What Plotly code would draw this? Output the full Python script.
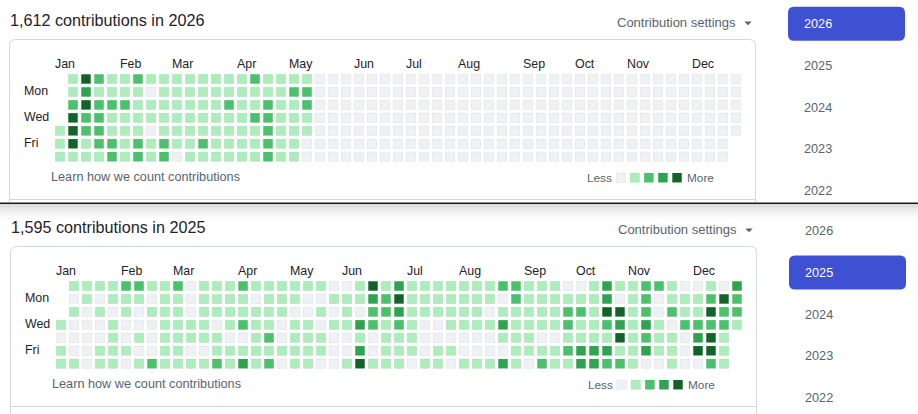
import datetime as dt
import plotly.graph_objects as go

W, H = 918, 414

# ---------------- data ----------------
LEVEL_COLORS = ["#eff2f5", "#aceebb", "#4ac26b", "#2da44e", "#116329"]
MONTHS = ["Jan", "Feb", "Mar", "Apr", "May", "Jun", "Jul", "Aug", "Sep", "Oct", "Nov", "Dec"]
DAY_LABELS = {1: "Mon", 3: "Wed", 5: "Fri"}
YEAR_LIST = ["2026", "2025", "2024", "2023", "2022"]

N = None
# contribution level per week column (53), one list per weekday (Sun..Sat); None = outside the year
sun_2026 = [N, 1, 4, 2, 1, 1, 2, 1, 1, 1, 1, 1, 1, 1, 1, 2, 1, 1, 1, 1,
            0, 0, 0, 0, 0, 0, 0, 0, 0, 0, 0, 0, 0, 0, 0, 0, 0, 0, 0, 0, 0, 0, 0, 0, 0, 0, 0, 0, 0, 0, 0, 0, 0]
mon_2026 = [N, 1, 3, 1, 1, 1, 1, 0, 1, 1, 1, 1, 1, 1, 1, 1, 1, 1, 2, 2,
            0, 0, 0, 0, 0, 0, 0, 0, 0, 0, 0, 0, 0, 0, 0, 0, 0, 0, 0, 0, 0, 0, 0, 0, 0, 0, 0, 0, 0, 0, 0, 0, 0]
tue_2026 = [N, 2, 4, 2, 2, 2, 1, 1, 1, 1, 1, 1, 1, 2, 1, 1, 2, 1, 1, 2,
            0, 0, 0, 0, 0, 0, 0, 0, 0, 0, 0, 0, 0, 0, 0, 0, 0, 0, 0, 0, 0, 0, 0, 0, 0, 0, 0, 0, 0, 0, 0, 0, 0]
wed_2026 = [N, 4, 2, 2, 1, 1, 1, 1, 1, 1, 1, 1, 1, 1, 1, 2, 2, 1, 1, 1,
            0, 0, 0, 0, 0, 0, 0, 0, 0, 0, 0, 0, 0, 0, 0, 0, 0, 0, 0, 0, 0, 0, 0, 0, 0, 0, 0, 0, 0, 0, 0, 0, 0]
thu_2026 = [1, 4, 2, 2, 1, 1, 1, 0, 1, 1, 1, 1, 1, 1, 1, 1, 2, 1, 1, 1,
            0, 0, 0, 0, 0, 0, 0, 0, 0, 0, 0, 0, 0, 0, 0, 0, 0, 0, 0, 0, 0, 0, 0, 0, 0, 0, 0, 0, 0, 0, 0, 0, 0]
fri_2026 = [1, 4, 1, 2, 2, 1, 2, 1, 2, 1, 1, 2, 1, 1, 1, 1, 2, 1, 1, 0,
            0, 0, 0, 0, 0, 0, 0, 0, 0, 0, 0, 0, 0, 0, 0, 0, 0, 0, 0, 0, 0, 0, 0, 0, 0, 0, 0, 0, 0, 0, 0, 0, N]
sat_2026 = [1, 1, 1, 1, 2, 1, 2, 1, 2, 0, 1, 1, 1, 1, 1, 1, 2, 1, 1, 0,
            0, 0, 0, 0, 0, 0, 0, 0, 0, 0, 0, 0, 0, 0, 0, 0, 0, 0, 0, 0, 0, 0, 0, 0, 0, 0, 0, 0, 0, 0, 0, 0, N]

sun_2025 = [N, 1, 1, 1, 1, 2, 2, 1, 1, 2, 0, 1, 1, 1, 2, 1, 1, 1, 1, 1, 1, 0, 0, 1, 4, 1, 3,
            1, 1, 1, 1, 1, 1, 1, 2, 2, 1, 1, 1, 0, 0, 1, 3, 1, 1, 2, 2, 1, 0, 0, 1, 0, 3]
mon_2025 = [N, 0, 1, 0, 1, 1, 1, 0, 1, 1, 0, 1, 1, 1, 1, 0, 1, 1, 1, 0, 0, 1, 1, 1, 3, 2, 4,
            1, 1, 1, 1, 1, 1, 1, 0, 2, 1, 1, 1, 1, 1, 1, 3, 0, 1, 2, 0, 1, 1, 1, 2, 4, 2]
tue_2025 = [N, 1, 0, 1, 0, 1, 0, 1, 1, 1, 0, 1, 1, 1, 1, 1, 1, 1, 0, 0, 1, 0, 1, 0, 2, 2, 3,
            1, 1, 1, 1, 1, 1, 0, 1, 1, 1, 1, 1, 2, 2, 1, 4, 4, 1, 2, 0, 2, 1, 1, 4, 2, 2]
wed_2025 = [1, 0, 0, 0, 1, 0, 0, 0, 1, 1, 1, 1, 0, 1, 2, 1, 1, 0, 1, 1, 0, 1, 1, 3, 2, 1, 2,
            1, 0, 0, 1, 1, 1, 1, 3, 1, 1, 1, 1, 2, 1, 1, 2, 3, 1, 3, 1, 0, 2, 2, 2, 2, 1]
thu_2025 = [0, 0, 0, 0, 1, 0, 1, 0, 1, 1, 1, 1, 1, 0, 0, 1, 2, 0, 1, 1, 1, 0, 0, 1, 0, 1, 1,
            1, 0, 0, 0, 0, 0, 0, 1, 1, 1, 0, 0, 1, 1, 1, 1, 4, 1, 2, 1, 1, 0, 3, 4, 1, N]
fri_2025 = [1, 0, 0, 1, 1, 1, 0, 0, 1, 1, 0, 0, 1, 1, 1, 1, 1, 1, 1, 1, 1, 0, 0, 3, 0, 1, 1,
            1, 0, 1, 1, 0, 0, 0, 0, 1, 1, 1, 1, 2, 3, 3, 3, 1, 1, 3, 1, 1, 0, 4, 4, 1, N]
sat_2025 = [1, 1, 0, 1, 1, 0, 1, 2, 1, 1, 1, 1, 2, 1, 3, 1, 2, 0, 1, 1, 0, 0, 1, 4, 1, 1, 1,
            0, 1, 1, 0, 1, 1, 1, 3, 1, 0, 2, 1, 1, 3, 3, 2, 2, 1, 0, 0, 1, 0, 0, 2, 1, N]

rows_2026 = [sun_2026, mon_2026, tue_2026, wed_2026, thu_2026, fri_2026, sat_2026]
rows_2025 = [sun_2025, mon_2025, tue_2025, wed_2025, thu_2025, fri_2025, sat_2025]
totals = {2026: 1612, 2025: 1595}

# ---------------- helpers ----------------
FONT = "Liberation Sans, Arial, sans-serif"
TEXT = "#1f2328"
MUTED = "#59636e"
BORDER = "#d1d9e0"
BLUE = "#3e51d2"


def px(x):
    return x / W


def py(y):
    return 1 - y / H


def month_cols(year):
    jan1 = dt.date(year, 1, 1)
    start = jan1 - dt.timedelta(days=(jan1.weekday() + 1) % 7)
    cols = []
    for m in range(1, 13):
        d = dt.date(year, m, 1)
        if m > 1:
            d = d + dt.timedelta(days=(6 - d.weekday()) % 7)  # first Sunday
        cols.append((d - start).days // 7)
    return cols


def rounded_path(x0, x1, y0, y1, r, closed=True):
    if closed:
        return (f"M {px(x0+r)},{py(y0)} L {px(x1-r)},{py(y0)} Q {px(x1)},{py(y0)} {px(x1)},{py(y0+r)} "
                f"L {px(x1)},{py(y1-r)} Q {px(x1)},{py(y1)} {px(x1-r)},{py(y1)} "
                f"L {px(x0+r)},{py(y1)} Q {px(x0)},{py(y1)} {px(x0)},{py(y1-r)} "
                f"L {px(x0)},{py(y0+r)} Q {px(x0)},{py(y0)} {px(x0+r)},{py(y0)} Z")
    return (f"M {px(x0)},{py(y1)} L {px(x0)},{py(y0+r)} Q {px(x0)},{py(y0)} {px(x0+r)},{py(y0)} "
            f"L {px(x1-r)},{py(y0)} Q {px(x1)},{py(y0)} {px(x1)},{py(y0+r)} L {px(x1)},{py(y1)}")


fig = go.Figure()
annotations = []
shapes = []
layout_axes = {}


def ann(text, x, y, size, color=TEXT, xanchor="left", xref="paper", yref="paper", yshift=0):
    annotations.append(dict(text=text, x=x, y=y, xref=xref, yref=yref, xanchor=xanchor, yanchor="middle",
                            showarrow=False, font=dict(family=FONT, size=size, color=color),
                            borderpad=0, borderwidth=0, yshift=yshift))


PITCH_X, PITCH_Y = 13.0, 12.95
panels = [
    dict(year=2026, rows=rows_2026, dx=0, dy=0, bottom=203, sel=0, ax=("x", "y"), lax=("x3", "y3")),
    dict(year=2025, rows=rows_2025, dx=1, dy=207, bottom=420, sel=1, ax=("x2", "y2"), lax=("x4", "y4")),
]

for p in panels:
    dx, dy = p["dx"], p["dy"]
    xa, ya = p["ax"]
    lxa, lya = p["lax"]
    col0, row0 = 60 + dx, 79 + dy
    ncols = len(p["rows"][0])

    # --- grid cells
    xs, ys, cs = [], [], []
    for r, row in enumerate(p["rows"]):
        for c, v in enumerate(row):
            if v is None:
                continue
            xs.append(c)
            ys.append(r)
            cs.append(LEVEL_COLORS[v])
    fig.add_trace(go.Scatter(x=xs, y=ys, mode="markers", xaxis=xa, yaxis=ya, hoverinfo="skip",
                             marker=dict(symbol="square", size=9.4, color=cs,
                                         line=dict(width=1, color="rgba(31,35,40,0.06)"))))
    xname = "xaxis" if xa == "x" else "xaxis" + xa[1:]
    yname = "yaxis" if ya == "y" else "yaxis" + ya[1:]
    layout_axes[xname] = dict(domain=[px(col0 - PITCH_X / 2), px(col0 + (ncols - 0.5) * PITCH_X)],
                              range=[-0.5, ncols - 0.5], visible=False, fixedrange=True, anchor=ya)
    layout_axes[yname] = dict(domain=[py(row0 + 6.5 * PITCH_Y), py(row0 - 0.5 * PITCH_Y)],
                              range=[6.5, -0.5], visible=False, fixedrange=True, anchor=xa)

    # --- legend swatches
    lx0, ly = 613.7 + dx, 177.7 + dy
    fig.add_trace(go.Scatter(x=list(range(len(LEVEL_COLORS))), y=[0] * len(LEVEL_COLORS), mode="markers",
                             xaxis=lxa, yaxis=lya, hoverinfo="skip",
                             marker=dict(symbol="square", size=9.4, color=LEVEL_COLORS,
                                         line=dict(width=1, color="rgba(31,35,40,0.06)"))))
    lxname = "xaxis" + lxa[1:]
    lyname = "yaxis" + lya[1:]
    layout_axes[lxname] = dict(domain=[px(lx0), px(lx0 + 14.07 * 5)], range=[-0.5, 4.5], visible=False,
                               fixedrange=True, anchor=lya)
    layout_axes[lyname] = dict(domain=[py(ly + 6), py(ly - 6)], range=[-0.5, 0.5], visible=False,
                               fixedrange=True, anchor=lxa)
    ann("Less", px(611.5 + dx), py(ly), 11.8, MUTED, xanchor="right")
    ann("More", px(686.5 + dx), py(ly), 11.8, MUTED)

    # --- texts
    ann(f"{totals[p['year']]:,} contributions in {p['year']}", px(9.5 + dx), py(19.8 + dy), 16.2, TEXT)
    ann("Contribution settings", px(616.5 + dx), py(22.2 + dy), 13, MUTED)
    shapes.append(dict(type="path", xref="paper", yref="paper", line=dict(width=0), fillcolor=MUTED,
                       path=f"M {px(744.3+dx)},{py(21.4+dy)} L {px(751.7+dx)},{py(21.4+dy)} "
                            f"L {px(748+dx)},{py(25.2+dy)} Z"))
    for m, c in zip(MONTHS, month_cols(p["year"])):
        ann(m, c - 5 / PITCH_X, py(63.5 + dy), 12.4, TEXT, xref=xa)
    for r, lab in DAY_LABELS.items():
        ann(lab, px(24 + dx), r, 12.4, TEXT, yref=ya, yshift=1.2)
    ann("Learn how we count contributions", px(50.7 + dx), py(177.3 + dy), 12.7, MUTED)

    # --- box
    shapes.append(dict(type="path", xref="paper", yref="paper", line=dict(color=BORDER, width=1),
                       path=rounded_path(9.5 + dx, 755.5 + dx, 39.5 + dy, p["bottom"], 6, closed=False)))
    shapes.append(dict(type="line", xref="paper", yref="paper", line=dict(color=BORDER, width=1),
                       x0=px(9.5 + dx), x1=px(755.5 + dx), y0=py(199.5 + dy), y1=py(199.5 + dy)))

    # --- year selector
    for i, yr in enumerate(YEAR_LIST):
        yc = 23.7 + dy + i * 41.9
        if i == p["sel"]:
            shapes.append(dict(type="path", xref="paper", yref="paper", line=dict(width=0), fillcolor=BLUE,
                               path=rounded_path(788 + dx, 905 + dx, yc - 17, yc + 17, 6)))
            ann(yr, px(804 + dx), py(yc), 12.7, "#ffffff")
        else:
            ann(yr, px(804 + dx), py(yc), 12.7, MUTED)

# --- separator between the two screenshots, with its shadow
for i in range(16):
    a = 0.15 * (1 - i / 16) ** 1.6
    shapes.append(dict(type="rect", xref="paper", yref="paper", line=dict(width=0),
                       fillcolor=f"rgba(0,0,0,{a:.4f})", layer="above",
                       x0=0, x1=1, y0=py(204 + i + 1), y1=py(204 + i)))
shapes.append(dict(type="line", xref="paper", yref="paper", line=dict(color="#1c1c1c", width=1.6),
                   x0=0, x1=1, y0=py(203.3), y1=py(203.3), layer="above"))

fig.update_layout(width=W, height=H, margin=dict(l=0, r=0, t=0, b=0), paper_bgcolor="#ffffff",
                  plot_bgcolor="rgba(0,0,0,0)", showlegend=False, annotations=annotations, shapes=shapes,
                  **layout_axes)
for tr in fig.data:
    tr.cliponaxis = False

fig.write_html("out.html", config={"displayModeBar": False})
